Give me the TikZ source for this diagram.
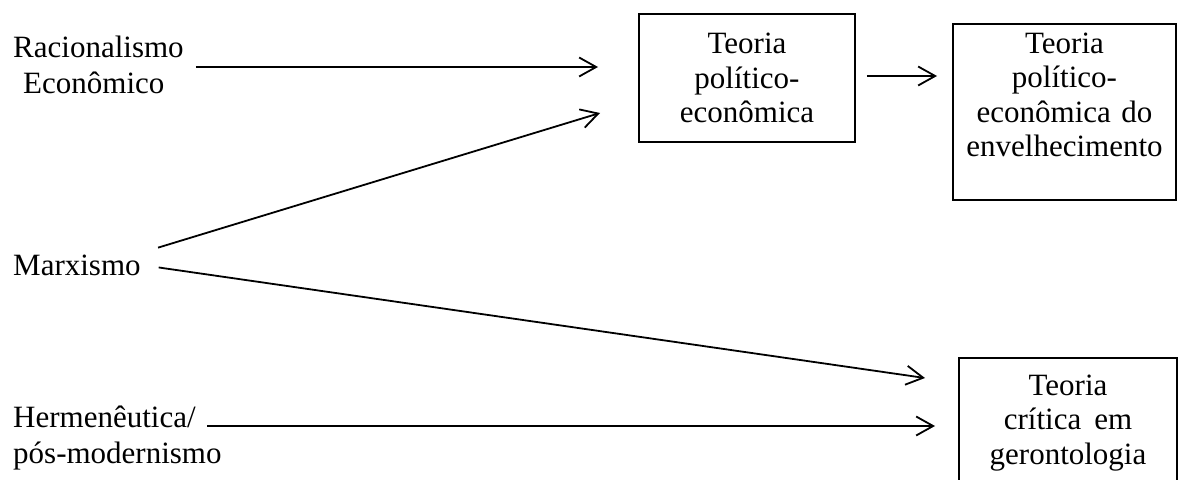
\documentclass[tikz,border=0pt]{standalone}
\usepackage{fontspec}
\setmainfont{Liberation Serif}
\usetikzlibrary{arrows.meta,positioning}

\begin{document}
\begin{tikzpicture}[x=1pt,y=-1pt,>={Straight Barb[length=17pt,width=19pt]},
  lbl/.style={inner sep=0pt,align=left,font=\fontsize{31}{36}\selectfont},
  caixa/.style={line width=1.8pt,text width=200pt,inner xsep=8pt,align=center,
    font=\fontsize{31}{34.5}\selectfont},
  seta/.style={->,line width=1.8pt}]
  \useasboundingbox (0,0) rectangle (1180,479);
  % correntes de origem
  \node[lbl,anchor=north west] (rac) at (13,35.8) {Racionalismo\\\hspace{10pt}Econômico};
  \node[lbl,anchor=base west] (marx) at (13,275) {Marxismo};
  \node[lbl,anchor=north west] (herm) at (13,405.5) {Hermenêutica/\\pós-modernismo};
  % teorias
  \node[caixa,draw,minimum height=128pt] (tpe) at (747,78) {Teoria\\político-\\econômica};
  \node[caixa,draw,text width=207pt,anchor=north,inner ysep=9pt] (tpee) at (1064.5,23)
    {Teoria\\político-\\econômica do\\envelhecimento\rule[-34pt]{0pt}{34pt}};
  \node[caixa,anchor=north,inner ysep=16pt] (tcg) at (1068,358) {Teoria\\crítica\hspace{13pt}em\\gerontologia};
  \draw[line width=1.8pt] (tcg.south west) -- (tcg.north west) -- (tcg.north east) -- (tcg.south east);
  % pontas das setas
  \coordinate (p1) at (598,67);
  \coordinate (p2) at (600,113);
  \coordinate (p3) at (925,378);
  \coordinate (p4) at (935,426);
  \coordinate (p5) at (937,76);
  \draw[seta,shorten <=12pt] (rac.east |- p1) -- (p1);
  \draw[seta,shorten <=18pt] ([yshift=12pt]marx.east) -- (p2);
  \draw[seta,shorten <=18pt] (marx.east) -- (p3);
  \draw[seta] ([xshift=194pt,yshift=-20.5pt]herm.north west) -- (p4);
  \draw[seta,shorten <=11pt] (tpe.east |- p5) -- (p5);
\end{tikzpicture}
\end{document}
